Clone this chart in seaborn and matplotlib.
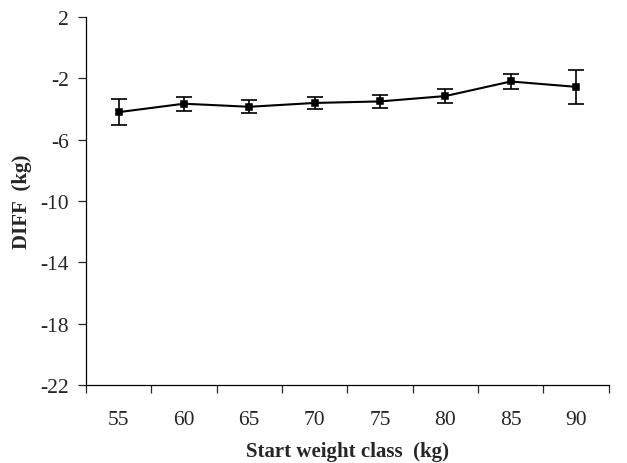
import numpy as np
import pandas as pd
import seaborn as sns
import matplotlib.pyplot as plt
from matplotlib.ticker import FixedLocator

# Data
weight_class = ['55', '60', '65', '70', '75', '80', '85', '90']
diff_mean = [-4.2, -3.65, -3.85, -3.6, -3.5, -3.15, -2.2, -2.55]
diff_err = [0.83, 0.47, 0.42, 0.4, 0.42, 0.46, 0.49, 1.1]

df = pd.DataFrame({'cls': weight_class, 'diff': diff_mean, 'err': diff_err})

sns.set_style('white')
plt.rcParams['font.family'] = ['Liberation Serif', 'DejaVu Serif']
plt.rcParams['axes.unicode_minus'] = False

fig = plt.figure(figsize=(6.27, 4.64), dpi=100)
ax = fig.add_axes([0.137, 0.168, 0.834, 0.793])

# Mean line with square markers
sns.pointplot(data=df, x='cls', y='diff', errorbar=None, color='black',
              markers='s', linestyles='-', markersize=5, linewidth=1.5, ax=ax)

# Error bars
xpos = np.arange(len(weight_class))
ax.errorbar(xpos, df['diff'], yerr=df['err'], fmt='none', ecolor='black',
            elinewidth=1.2, capsize=6, capthick=1.2)

ax.set_xlim(-0.5, len(weight_class) - 0.5)
ax.set_ylim(-22, 2)
ax.set_yticks(np.arange(-22, 3, 4))

# ticks between the categories, labels centred
ax.xaxis.set_minor_locator(FixedLocator(np.arange(-0.5, len(weight_class), 1.0)))
ax.tick_params(axis='x', which='major', length=0, pad=18, labelsize=15.5)
ax.tick_params(axis='x', which='minor', length=6, width=0.9, direction='out', bottom=True)
ax.tick_params(axis='y', which='major', length=6, width=0.9, direction='out', left=True,
               pad=6, labelsize=15.5)

for side in ['top', 'right']:
    ax.spines[side].set_visible(False)
for side in ['left', 'bottom']:
    ax.spines[side].set_color('black')
    ax.spines[side].set_linewidth(0.9)

ax.set_xlabel('Start weight class  (kg)', fontsize=15, fontweight='bold', labelpad=8.5)
ax.set_ylabel('DIFF  (kg)', fontsize=15, fontweight='bold', labelpad=6)

fig.savefig('out.png', dpi=100)
